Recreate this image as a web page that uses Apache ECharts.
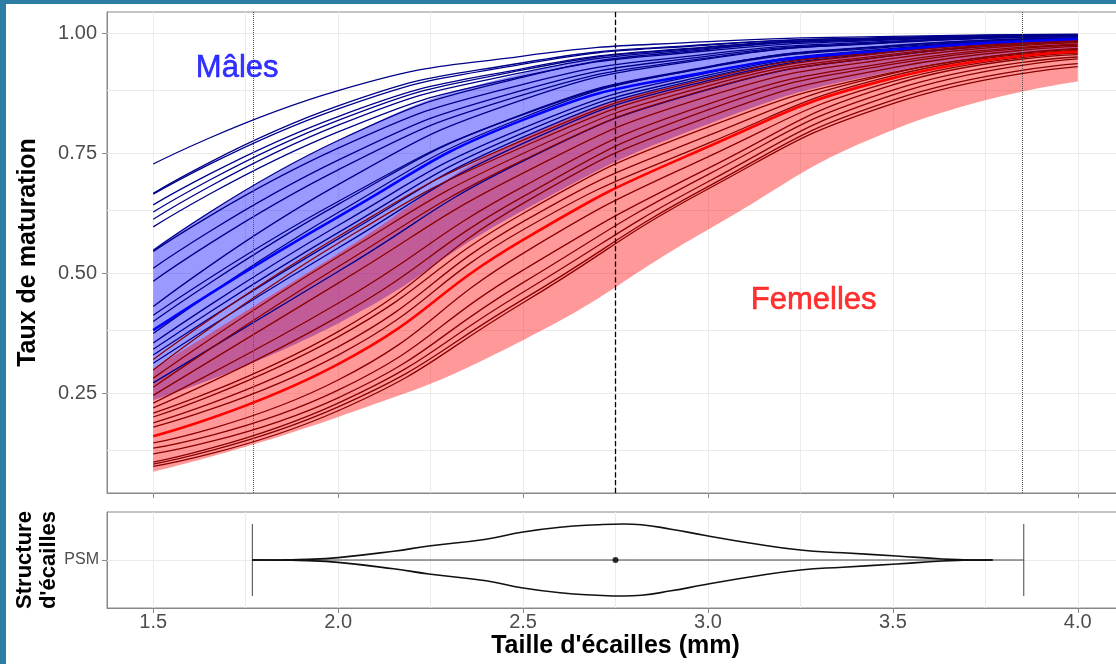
<!DOCTYPE html>
<html>
<head>
<meta charset="utf-8">
<script src="https://cdn.jsdelivr.net/npm/echarts@6/dist/echarts.min.js"></script>
<style>
  html, body { margin: 0; padding: 0; background: #2c7da6; }
  #main { position: absolute; left: 6px; top: 4px; width: 1110px; height: 660px; background: #fff; }
</style>
</head>
<body>
<div id="main"></div>
<script>
// tailles (mm) où les courbes ont été lues
var xs = [1.5, 2.0, 2.5, 3.0, 3.5, 4.0];

// courbes individuelles - mâles
var maleLines = [
  [0.727, 0.880, 0.952, 0.982, 0.993, 0.9975],
  [0.666, 0.848, 0.938, 0.976, 0.991, 0.9967],
  [0.664, 0.842, 0.935, 0.975, 0.990, 0.9964],
  [0.642, 0.826, 0.926, 0.971, 0.989, 0.9956],
  [0.627, 0.818, 0.923, 0.970, 0.988, 0.9956],
  [0.612, 0.808, 0.918, 0.968, 0.9876, 0.9953],
  [0.596, 0.794, 0.910, 0.963, 0.9857, 0.9945],
  [0.547, 0.776, 0.908, 0.966, 0.9877, 0.9957],
  [0.545, 0.760, 0.893, 0.956, 0.983, 0.9935],
  [0.510, 0.735, 0.881, 0.952, 0.981, 0.9929],
  [0.483, 0.715, 0.871, 0.948, 0.980, 0.9925],
  [0.430, 0.684, 0.861, 0.946, 0.981, 0.9931],
  [0.412, 0.649, 0.830, 0.928, 0.971, 0.989],
  [0.399, 0.643, 0.831, 0.930, 0.973, 0.990],
  [0.374, 0.626, 0.824, 0.929, 0.974, 0.990],
  [0.354, 0.599, 0.802, 0.917, 0.968, 0.988],
  [0.341, 0.584, 0.792, 0.912, 0.966, 0.987],
  [0.329, 0.571, 0.783, 0.908, 0.964, 0.986],
  [0.312, 0.552, 0.770, 0.901, 0.961, 0.985],
  [0.271, 0.503, 0.733, 0.882, 0.953, 0.982]
];

// courbes individuelles - femelles
var femaleLines = [
  [0.320, 0.576, 0.777, 0.905, 0.963, 0.986],
  [0.298, 0.562, 0.763, 0.897, 0.960, 0.985],
  [0.281, 0.534, 0.749, 0.890, 0.956, 0.984],
  [0.262, 0.513, 0.735, 0.883, 0.953, 0.982],
  [0.245, 0.479, 0.708, 0.868, 0.947, 0.980],
  [0.229, 0.437, 0.680, 0.852, 0.940, 0.977],
  [0.219, 0.409, 0.659, 0.840, 0.935, 0.975],
  [0.208, 0.378, 0.645, 0.825, 0.928, 0.972],
  [0.200, 0.367, 0.624, 0.804, 0.918, 0.968],
  [0.188, 0.346, 0.607, 0.786, 0.916, 0.966],
  [0.179, 0.329, 0.590, 0.770, 0.911, 0.964],
  [0.146, 0.277, 0.541, 0.742, 0.899, 0.958],
  [0.135, 0.256, 0.506, 0.718, 0.892, 0.955],
  [0.123, 0.240, 0.480, 0.705, 0.881, 0.950],
  [0.106, 0.229, 0.460, 0.690, 0.871, 0.946],
  [0.102, 0.221, 0.445, 0.680, 0.860, 0.936],
  [0.097, 0.213, 0.438, 0.675, 0.853, 0.930]
];

// moyennes et intervalles
var maleMean = [0.381, 0.617, 0.819, 0.919, 0.965, 0.9875];
var maleLow = [0.235, 0.395, 0.630, 0.810, 0.920, 0.966];
var maleHigh = [0.550, 0.776, 0.916, 0.971, 0.990, 0.9967];
var femaleMean = [0.160, 0.310, 0.569, 0.763, 0.906, 0.961];
var femaleLow = [0.086, 0.200, 0.360, 0.590, 0.798, 0.899];
var femaleHigh = [0.300, 0.540, 0.780, 0.905, 0.958, 0.985];

// axes
var xTicks = [1.5, 2.0, 2.5, 3.0, 3.5, 4.0];
var yTicks = [0.25, 0.5, 0.75, 1.0];
var xGrid = [1.5, 1.75, 2.0, 2.25, 2.5, 2.75, 3.0, 3.25, 3.5, 3.75, 4.0];
var yGrid = [0.125, 0.25, 0.375, 0.5, 0.625, 0.75, 0.875, 1.0];

// structure d'écailles (PSM)
var quantLow = 1.768;
var quantHigh = 3.854;
var medianSize = 2.75;
var violinX = [1.768, 1.85, 1.916, 2.0, 2.15, 2.245, 2.40, 2.50, 2.60, 2.70, 2.773, 2.82, 2.90, 2.99, 3.117, 3.25, 3.365, 3.51, 3.634, 3.69, 3.77];
var violinHalf = [0, 0.003, 0.008, 0.03, 0.11, 0.175, 0.26, 0.35, 0.41, 0.44, 0.45, 0.44, 0.385, 0.31, 0.21, 0.125, 0.09, 0.05, 0.0125, 0.004, 0];

var font = "'Liberation Sans', Arial, sans-serif";
var myChart = echarts.init(document.getElementById('main'));

function pts(vals) {
  return xs.map(function (x, i) { return [x, vals[i]]; });
}
function curve(vals, color, width) {
  return {
    type: 'line', data: pts(vals), smooth: true, symbol: 'none', silent: true,
    lineStyle: { color: color, width: width }
  };
}
// ruban = série de base + écart empilé ; la valeur est en 1re colonne pour que l'empilement se fasse sur y
function band(low, high, color, stack) {
  function rows(vals) { return xs.map(function (x, i) { return [vals[i], x]; }); }
  var gap = high.map(function (h, i) { return h - low[i]; });
  return [
    { type: 'line', stack: stack, encode: { x: 1, y: 0 }, data: rows(low), smooth: true,
      symbol: 'none', silent: true, lineStyle: { opacity: 0 } },
    { type: 'line', stack: stack, encode: { x: 1, y: 0 }, data: rows(gap), smooth: true,
      symbol: 'none', silent: true, lineStyle: { opacity: 0 }, areaStyle: { color: color, opacity: 0.4 } }
  ];
}
function gridLines(xi, yVals) {
  return {
    type: 'line', xAxisIndex: xi, yAxisIndex: xi, data: [], silent: true, symbol: 'none',
    markLine: {
      z: 1, symbol: 'none', silent: true, animation: false, label: { show: false },
      lineStyle: { color: '#ebebeb', width: 1, type: 'solid' },
      data: xGrid.map(function (v) { return { xAxis: v }; })
        .concat(yVals.map(function (v) { return { yAxis: v }; }))
    }
  };
}
function label(x, y, text, color) {
  return {
    type: 'scatter', data: [[x, y]], symbolSize: 1, silent: true, z: 10,
    itemStyle: { color: 'rgba(255,255,255,0)' },
    label: { show: true, position: 'inside', formatter: text, color: color, fontSize: 31, fontFamily: font,
      textBorderWidth: 0.6, textBorderColor: color, textShadowBlur: 0 }
  };
}

var series = [gridLines(0, yGrid)];
series = series.concat(band(maleLow, maleHigh, '#0000ff', 'm'));
series = series.concat(band(femaleLow, femaleHigh, '#ff0000', 'f'));
maleLines.forEach(function (c) { series.push(curve(c, '#00008b', 1.3)); });
femaleLines.forEach(function (c) { series.push(curve(c, '#8b0000', 1.3)); });
series.push(curve(maleMean, '#0000ff', 2.6));
series.push(curve(femaleMean, '#ff0000', 2.6));
series.push({
  type: 'line', data: [], silent: true, symbol: 'none',
  markLine: {
    z: 6, symbol: 'none', silent: true, animation: false, label: { show: false },
    data: [
      { xAxis: quantLow, lineStyle: { type: 'dotted', color: '#555', width: 1 } },
      { xAxis: medianSize, lineStyle: { type: 'dashed', color: '#000', width: 1.3 } },
      { xAxis: quantHigh, lineStyle: { type: 'dotted', color: '#555', width: 1 } }
    ]
  }
});
series.push(label(1.727, 0.927, 'Mâles', '#0000ff'));
series.push(label(3.286, 0.442, 'Femelles', '#ff0000'));

// panneau du bas
series.push(gridLines(1, [1]));
series.push({
  type: 'line', xAxisIndex: 1, yAxisIndex: 1, symbol: 'none', silent: true,
  data: [[quantLow, 1], [quantHigh, 1]], lineStyle: { color: '#444', width: 1 }
});
[quantLow, quantHigh].forEach(function (q) {
  series.push({
    type: 'line', xAxisIndex: 1, yAxisIndex: 1, symbol: 'none', silent: true,
    data: [[q, 0.55], [q, 1.45]], lineStyle: { color: '#444', width: 1 }
  });
});
[1, -1].forEach(function (s) {
  series.push({
    type: 'line', xAxisIndex: 1, yAxisIndex: 1, symbol: 'none', silent: true, smooth: true,
    data: violinX.map(function (x, i) { return [x, 1 + s * violinHalf[i]]; }),
    lineStyle: { color: '#111', width: 1.6 }
  });
});
series.push({
  type: 'scatter', xAxisIndex: 1, yAxisIndex: 1, silent: true, symbolSize: 6,
  data: [[medianSize, 1]], itemStyle: { color: '#000' }, z: 10
});

var axisLine = { show: true, lineStyle: { color: '#888', width: 1 } };
var tickStyle = { color: '#888', width: 1 };

myChart.setOption({
  animation: false,
  textStyle: { fontFamily: font },
  grid: [
    { left: 101, top: 8, width: 1017, height: 481, outerBoundsMode: 'none', containLabel: false,
      show: true, borderColor: '#888', borderWidth: 1, backgroundColor: '#fff' },
    { left: 101, top: 508, width: 1017, height: 96, outerBoundsMode: 'none', containLabel: false,
      show: true, borderColor: '#888', borderWidth: 1, backgroundColor: '#fff' }
  ],
  xAxis: [
    { type: 'value', gridIndex: 0, min: 1.375, max: 4.125, splitLine: { show: false },
      axisLine: axisLine,
      axisTick: { show: true, customValues: xTicks, length: 5, lineStyle: tickStyle },
      axisLabel: { show: false } },
    { type: 'value', gridIndex: 1, min: 1.375, max: 4.125, splitLine: { show: false },
      axisLine: axisLine,
      axisTick: { show: true, customValues: xTicks, length: 5, lineStyle: tickStyle },
      axisLabel: { customValues: xTicks, margin: 4, fontSize: 20, color: '#4d4d4d', fontFamily: font,
        formatter: function (v) { return v.toFixed(1); } },
      name: "Taille d'écailles (mm)", nameLocation: 'middle', nameGap: 26,
      nameTextStyle: { fontSize: 25, fontWeight: 'bold', color: '#000', fontFamily: font } }
  ],
  yAxis: [
    { type: 'value', gridIndex: 0, min: 0.04167, max: 1.04375, splitLine: { show: false },
      axisLine: axisLine,
      axisTick: { show: true, customValues: yTicks, length: 5, lineStyle: tickStyle },
      axisLabel: { customValues: yTicks, margin: 10, fontSize: 20, color: '#4d4d4d', fontFamily: font,
        formatter: function (v) { return v.toFixed(2); } },
      name: 'Taux de maturation', nameLocation: 'middle', nameRotate: 90, nameGap: 66,
      nameTextStyle: { fontSize: 25, fontWeight: 'bold', color: '#000', fontFamily: font } },
    { type: 'value', gridIndex: 1, min: 0.4, max: 1.6, splitLine: { show: false },
      axisLine: axisLine,
      axisTick: { show: true, customValues: [1], length: 5, lineStyle: tickStyle },
      axisLabel: { customValues: [1], margin: 8, fontSize: 16, color: '#4d4d4d', fontFamily: font,
        formatter: function () { return 'PSM'; } },
      name: "Structure\nd'écailles", nameLocation: 'middle', nameRotate: 90, nameGap: 46,
      nameMoveOverlap: false,
      nameTextStyle: { fontSize: 22, fontWeight: 'bold', color: '#000', lineHeight: 24, fontFamily: font } }
  ],
  series: series
});
</script>
</body>
</html>
